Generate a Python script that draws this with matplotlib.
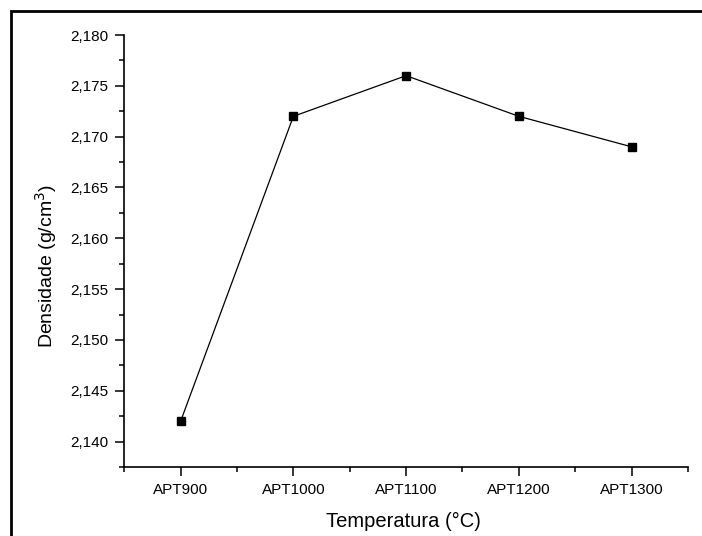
import matplotlib
matplotlib.use('Agg')
import matplotlib.pyplot as plt
from matplotlib.patches import Rectangle
from matplotlib.ticker import FuncFormatter, MultipleLocator, AutoMinorLocator

plt.rcParams['font.family'] = ['Liberation Sans', 'DejaVu Sans']

# Data
samples = ['APT900', 'APT1000', 'APT1100', 'APT1200', 'APT1300']
density = [2.142, 2.172, 2.176, 2.172, 2.169]

fig = plt.figure(figsize=(7.02, 5.36), dpi=100)
ax = fig.add_axes([0.177, 0.1287, 0.803, 0.806])

x = list(range(len(samples)))
ax.plot(x, density, color='black', linewidth=0.9,
        marker='s', markersize=6, markerfacecolor='black', markeredgecolor='black')

ax.set_xlim(-0.5, 4.5)
ax.set_ylim(2.1375, 2.180)
ax.set_xticks(x)
ax.set_xticklabels(samples)
ax.xaxis.set_minor_locator(MultipleLocator(0.5))
ax.yaxis.set_major_locator(MultipleLocator(0.005))
ax.yaxis.set_minor_locator(AutoMinorLocator(2))
ax.yaxis.set_major_formatter(FuncFormatter(lambda v, p: f'{v:.3f}'.replace('.', ',')))

for s in ['top', 'right']:
    ax.spines[s].set_visible(False)
for s in ['left', 'bottom']:
    ax.spines[s].set_linewidth(1.2)

ax.tick_params(which='major', direction='out', length=6.5, width=1.1, labelsize=11, pad=5)
ax.tick_params(which='minor', direction='out', length=3.3, width=1.1)

ax.set_xlabel('Temperatura (°C)', fontsize=14.5)
ax.set_ylabel('Densidade (g/cm$^3$)', fontsize=14)
ax.xaxis.set_label_coords(0.495, -0.104)
ax.yaxis.set_label_coords(-0.115, 0.465)

# outer frame around the figure
fig.patches.append(Rectangle((11 / 702, -0.1), 1.2, 1.1 - 11 / 536,
                             transform=fig.transFigure, fill=False,
                             edgecolor='black', linewidth=2))

fig.savefig('out.png', dpi=100)
